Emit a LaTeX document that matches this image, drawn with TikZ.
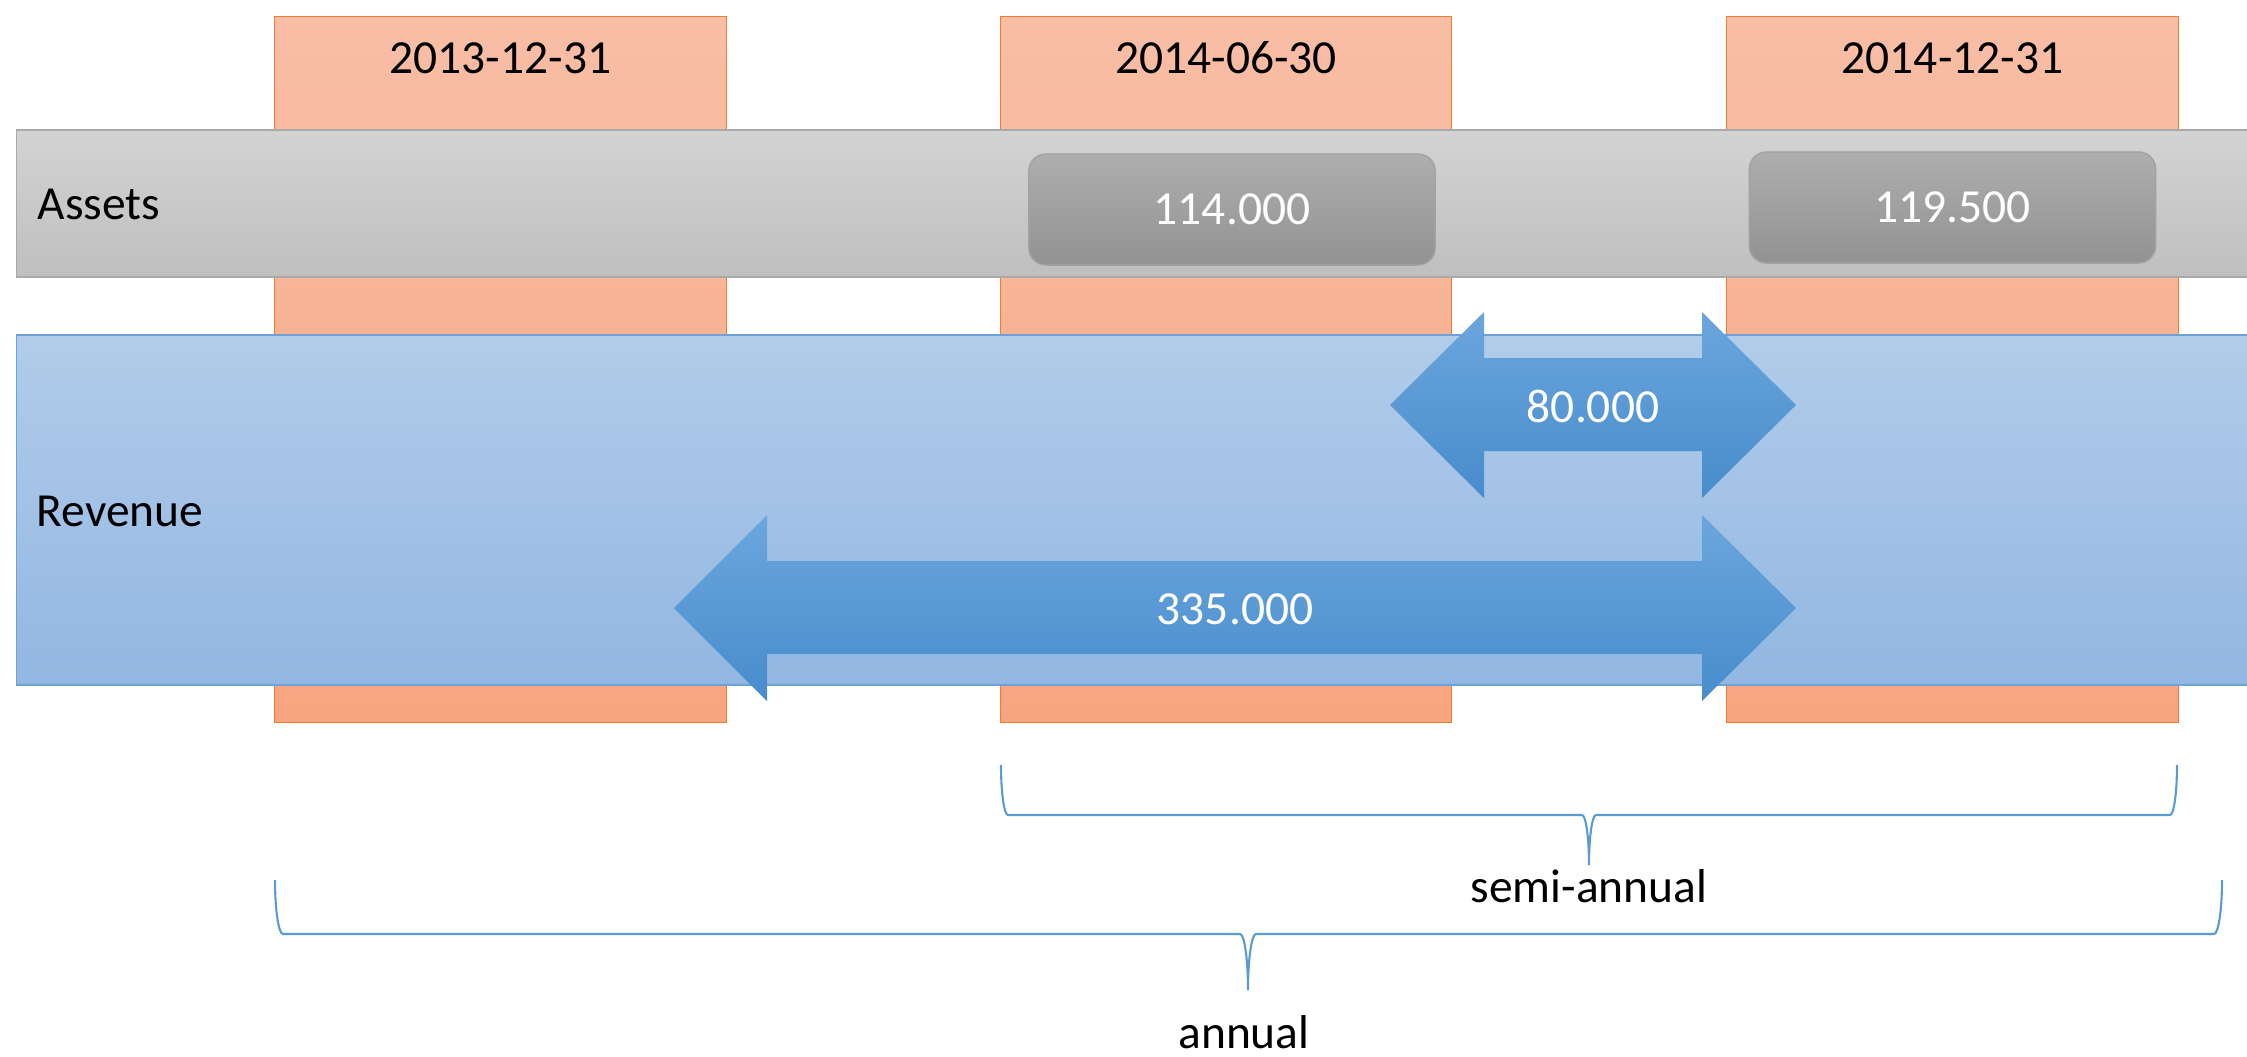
\documentclass[tikz,border=0pt]{standalone}
\usepackage{fontspec}
\setmainfont{Carlito}
\definecolor{orangetop}{HTML}{F8BEA6}
\definecolor{orangebot}{HTML}{F7A57F}
\definecolor{orangeline}{HTML}{ED7D31}
\definecolor{greytop}{HTML}{D3D3D3}
\definecolor{greybot}{HTML}{BFBFBF}
\definecolor{greyline}{HTML}{A9A9A9}
\definecolor{boxtop}{HTML}{AEAEAE}
\definecolor{boxbot}{HTML}{929292}
\definecolor{boxline}{HTML}{A2A2A2}
\definecolor{bluetop}{HTML}{B2CCEA}
\definecolor{bluebot}{HTML}{92B7E2}
\definecolor{blueline}{HTML}{6FA1D9}
\definecolor{arrowtop}{HTML}{6CA6DD}
\definecolor{arrowbot}{HTML}{478CCC}
\definecolor{bracecol}{HTML}{5B9BD5}
\begin{document}
\begin{tikzpicture}[x=0.01cm, y=-0.01cm,
  font=\fontsize{13.5}{16}\selectfont,
  datecol/.style={rectangle, inner sep=0, draw=orangeline, line width=0.35pt,
    top color=orangetop, bottom color=orangebot,
    minimum width=4.51cm, minimum height=7.05cm},
  assetband/.style={rectangle, inner sep=0, draw=greyline, line width=0.45pt,
    top color=greytop, bottom color=greybot,
    minimum width=22.43cm, minimum height=1.47cm},
  revband/.style={rectangle, inner sep=0, draw=blueline, line width=0.4pt,
    top color=bluetop, bottom color=bluebot,
    minimum width=22.43cm, minimum height=3.50cm},
  valbox/.style={rectangle, rounded corners=0.17cm, inner sep=0, draw=boxline,
    line width=0.4pt, top color=boxtop, bottom color=boxbot,
    minimum width=4.06cm, minimum height=1.11cm, text=white},
  blockarrow/.style={top color=arrowtop, bottom color=arrowbot},
  label/.style={inner sep=0},
  brace/.style={draw=bracecol, line width=0.6pt}]

\useasboundingbox (0,0) rectangle (2247,1056);

% date columns
\node[datecol] (col1) at (500.5,369.5) {};
\node[datecol] (col2) at (1226,369.5) {};
\node[datecol] (col3) at (1952.5,369.5) {};
\node[label] (d1) at (500.5,58) {2013-12-31};
\node[label] (d2) at (1226,58) {2014-06-30};
\node[label] (d3) at (1952.5,58) {2014-12-31};

% assets band with stock values
\node[assetband] (assets) at (1138.5,203.5) {};
\node[label, anchor=west] (assetslbl) at (37,204) {Assets};
\node[valbox] (a1) at (1232,209.5) {114.000};
\node[valbox] (a2) at (1952.5,207.5) {119.500};

% revenue band with flow values
\node[revband] (revenue) at (1138.5,510) {};
\node[label, anchor=west] (revlbl) at (36,511) {Revenue};

\shade[blockarrow] (1390,405) -- (1484,312) -- (1484,358) -- (1702,358) -- (1702,312)
  -- (1796,405) -- (1702,498) -- (1702,451) -- (1484,451) -- (1484,498) -- cycle;
\node[label, text=white] (r1) at (1593,406) {80.000};

\shade[blockarrow] (674,608) -- (767,515) -- (767,561) -- (1702,561) -- (1702,515)
  -- (1796,608) -- (1702,701) -- (1702,654) -- (767,654) -- (767,701) -- cycle;
\node[label, text=white] (r2) at (1235,609) {335.000};

% period braces
\coordinate (s0) at (1001,765);
\coordinate (s1) at (2177,765);
\coordinate (stip) at (1589,865);
\path[brace] (s0) .. controls (1001,792.6) and (1004.1,815) .. (1008,815) -- (1582,815)
  .. controls (1585.9,815) and (1589,837.4) .. (stip)
  .. controls (1589,837.4) and (1592.1,815) .. (1596,815) -- (2170,815)
  .. controls (2173.9,815) and (2177,792.6) .. (s1);
\node[label] (semi) at (1589,886) {semi-annual};

\coordinate (y0) at (275,880);
\coordinate (y1) at (2222,880);
\coordinate (ytip) at (1248,990);
\path[brace] (y0) .. controls (275,909.8) and (278.6,934) .. (283,934) -- (1240,934)
  .. controls (1244.4,934) and (1248,959) .. (ytip)
  .. controls (1248,959) and (1251.6,934) .. (1256,934) -- (2214,934)
  .. controls (2218.4,934) and (2222,909.8) .. (y1);
\node[label] (annual) at (1244,1032) {annual};

\end{tikzpicture}
\end{document}
